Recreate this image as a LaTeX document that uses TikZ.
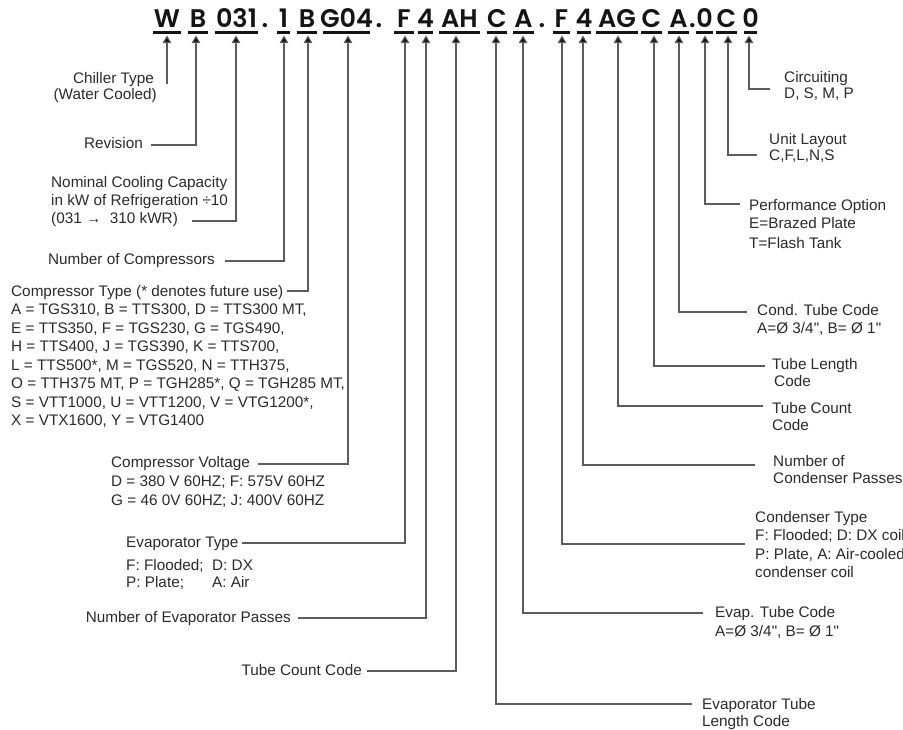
\documentclass[tikz,border=0pt]{standalone}
\usepackage{fontspec}
\setmainfont{Liberation Sans}[Ligatures=TeXOff]
\newfontfamily\hdrfont{Poppins}[BoldFont={* SemiBold}]
\usetikzlibrary{arrows.meta}
\definecolor{txt}{HTML}{2B2B2B}
\definecolor{ln}{HTML}{5C5C5C}
\begin{document}
\begin{tikzpicture}[x=1pt,y=-1pt,
  lab/.style={inner sep=0pt, text=txt, font=\fontsize{15.3}{17}\selectfont},
  lw/.style={lab, anchor=base west},
  le/.style={lab, anchor=base east},
  hdr/.style={inner sep=0pt, text=black!92, font=\hdrfont\bfseries\fontsize{25.5}{25.5}\selectfont, anchor=base},
  uline/.style={line width=2.6pt, black!92},
  lead/.style={line width=1.1pt, ln, -{Triangle[length=7.5pt,width=8.5pt,fill=black!92]}, line join=miter}
]
\useasboundingbox[fill=white] (0,0) rectangle (903,729);

% ---------------- header code ----------------
\node[hdr] (hW)   at (167,27) {W};
\node[hdr] (hB1)  at (198,27) {B};
\node[hdr] (h031) at (236.5,27) {031};
\node[hdr] (hd1)  at (265,27) {.};
\node[hdr] (h1)   at (283.5,27) {1};
\node[hdr] (hB2)  at (307,27) {B};
\node[hdr] (hG04) at (346.5,27) {G04};
\node[hdr] (hd2)  at (379,27) {.};
\node[hdr] (hF1)  at (404,27) {F};
\node[hdr] (h41)  at (425.5,27) {4};
\node[hdr] (hAH)  at (459.5,27) {AH};
\node[hdr] (hC1)  at (497,27) {C};
\node[hdr] (hA1)  at (523.5,27) {A};
\node[hdr] (hd3)  at (542,27) {.};
\node[hdr] (hF2)  at (561.5,27) {F};
\node[hdr] (h42)  at (584,27) {4};
\node[hdr] (hAG)  at (617,27) {AG};
\node[hdr] (hC2)  at (651.5,27) {C};
\node[hdr] (hA2)  at (678.5,27) {A};
\node[hdr] (hd4)  at (692.5,27) {.};
\node[hdr] (h01)  at (704.5,27) {0};
\node[hdr] (hC3)  at (726.5,27) {C};
\node[hdr] (h02)  at (750.5,27) {0};

\foreach \a/\b in {153/181,188/208,215/258,277/290,297/317,323/370,394/414,418/433,439/480,487/507,513/534,553/570,577/591,596/638,641/662,668/689,696/713,716/737,744/757}
  \draw[uline] (\a,32.5) -- (\b,32.5);

% arrow tips
\coordinate (tW)   at (167,35.5);
\coordinate (tB1)  at (196,35.5);
\coordinate (t031) at (236,35.5);
\coordinate (t1)   at (284,35.5);
\coordinate (tB2)  at (308,35.5);
\coordinate (tG04) at (348,35.5);
\coordinate (tF1)  at (405,35.5);
\coordinate (t41)  at (426,35.5);
\coordinate (tAH)  at (456,35.5);
\coordinate (tC1)  at (496,35.5);
\coordinate (tA1)  at (523,35.5);
\coordinate (tF2)  at (562,35.5);
\coordinate (t42)  at (583,35.5);
\coordinate (tAG)  at (618,35.5);
\coordinate (tC2)  at (654,35.5);
\coordinate (tA2)  at (679,35.5);
\coordinate (t01)  at (705,35.5);
\coordinate (tC3)  at (728,35.5);
\coordinate (t02)  at (749,35.5);

% ---------------- left labels ----------------
\node[le] (chil1) at (154,83) {Chiller Type};
\node[le] (chil2) at (157,99) {(Water Cooled)};
\node[le] (rev) at (143,148) {Revision};
\node[lw] (cap1) at (51,187) {Nominal Cooling Capacity};
\node[lw] (cap2) at (51,205) {in kW of Refrigeration ÷10};
\node[lw] (cap3) at (51,223) {(031 →\ \ 310 kWR)};
\node[le] (ncomp) at (215,264) {Number of Compressors};
\node[lw] (ct0) at (11,296) {Compressor Type (* denotes future use)};
\node[lw] (ct1) at (11,314.5) {A = TGS310, B = TTS300, D = TTS300 MT,};
\node[lw] (ct2) at (11,333) {E = TTS350, F = TGS230, G = TGS490,};
\node[lw] (ct3) at (11,351.5) {H = TTS400, J = TGS390, K = TTS700,};
\node[lw] (ct4) at (11,370) {L = TTS500*, M = TGS520, N = TTH375,};
\node[lw] (ct5) at (11,388.5) {O = TTH375 MT, P = TGH285*, Q = TGH285 MT,};
\node[lw] (ct6) at (11,407) {S = VTT1000, U = VTT1200, V = VTG1200*,};
\node[lw] (ct7) at (11,425.5) {X = VTX1600, Y = VTG1400};
\node[lw] (cv0) at (111,467) {Compressor Voltage};
\node[lw] (cv1) at (111,486) {D = 380 V 60HZ; F: 575V 60HZ};
\node[lw] (cv2) at (111,505) {G = 46 0V 60HZ; J: 400V 60HZ};
\node[lw] (et0) at (126,547) {Evaporator Type};
\node[lw] (et1) at (126,570) {\makebox[86pt][l]{F: Flooded;}D: DX};
\node[lw] (et2) at (126,587) {\makebox[86pt][l]{P: Plate;}A: Air};
\node[le] (nep) at (291,622) {Number of Evaporator Passes};
\node[le] (tcc) at (362,675) {Tube Count Code};

% ---------------- right labels ----------------
\node[lw] (cir1) at (784,82) {Circuiting};
\node[lw] (cir2) at (784,98) {D, S, M, P};
\node[lw] (ul1) at (769,144) {Unit Layout};
\node[lw] (ul2) at (769,160) {C,F,L,N,S};
\node[lw] (po1) at (749,210) {Performance Option};
\node[lw] (po2) at (749,228) {E=Brazed Plate};
\node[lw] (po3) at (749,248) {T=Flash Tank};
\node[lw] (ctc1) at (757,315) {Cond. Tube Code};
\node[lw] (ctc2) at (757,333) {A=Ø 3/4", B= Ø 1"};
\node[lw] (tl1) at (772,369) {Tube Length};
\node[lw] (tl2) at (774,386) {Code};
\node[lw] (rtc1) at (772,413) {Tube Count};
\node[lw] (rtc2) at (772,430) {Code};
\node[lw] (ncp1) at (773,466) {Number of};
\node[lw] (ncp2) at (773,483) {Condenser Passes};
\node[lw] (cdt0) at (755,522) {Condenser Type};
\node[lw] (cdt1) at (755,540.5) {F: Flooded; D: DX coil};
\node[lw] (cdt2) at (755,559) {P: Plate, A: Air-cooled};
\node[lw] (cdt3) at (755,577.5) {condenser coil};
\node[lw] (evt1) at (715,617) {Evap. Tube Code};
\node[lw] (evt2) at (715,636) {A=Ø 3/4", B= Ø 1"};
\node[lw] (etl1) at (702,709) {Evaporator Tube};
\node[lw] (etl2) at (702,726) {Length Code};

% ---------------- leader ends ----------------
\coordinate (eW)   at (167,84);
\coordinate (eB1)  at (151,145);
\coordinate (e031) at (192,221);
\coordinate (e1)   at (225,261);
\coordinate (eB2)  at (287,291);
\coordinate (eG04) at (258,464);
\coordinate (eF1)  at (242,543);
\coordinate (e41)  at (298,618);
\coordinate (eAH)  at (367,671);
\coordinate (eC1)  at (692,704);
\coordinate (eA1)  at (703,613);
\coordinate (eF2)  at (745,544);
\coordinate (e42)  at (755,465);
\coordinate (eAG)  at (763,406);
\coordinate (eC2)  at (765,366);
\coordinate (eA2)  at (747,312);
\coordinate (e01)  at (740,204);
\coordinate (eC3)  at (757,155);
\coordinate (e02)  at (770,89);

\draw[lead] (eW) -- (tW);
\foreach \e/\t in {eB1/tB1,e031/t031,e1/t1,eB2/tB2,eG04/tG04,eF1/tF1,e41/t41,eAH/tAH,eC1/tC1,eA1/tA1,eF2/tF2,e42/t42,eAG/tAG,eC2/tC2,eA2/tA2,e01/t01,eC3/tC3,e02/t02}
  \draw[lead] (\e) -| (\t);
\end{tikzpicture}
\end{document}
